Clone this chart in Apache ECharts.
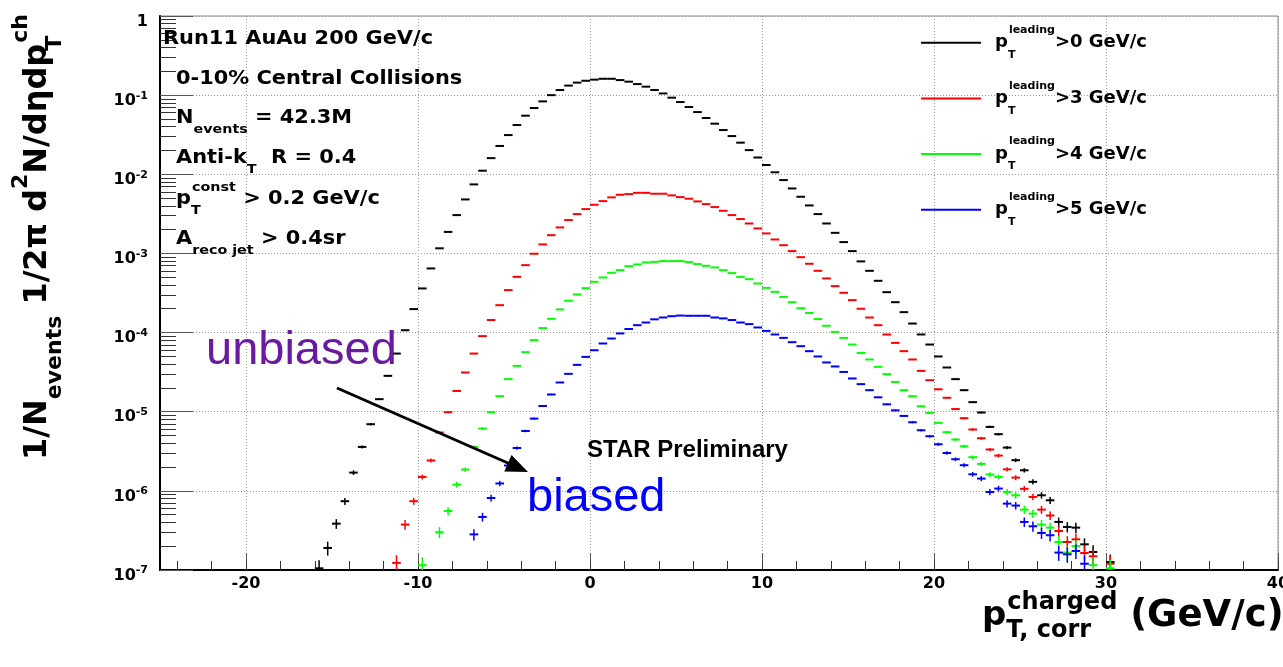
<!DOCTYPE html>
<html>
<head>
<meta charset="utf-8">
<script src="https://cdn.jsdelivr.net/npm/echarts@6/dist/echarts.min.js"></script>
<style>
html, body { margin: 0; padding: 0; background: #fff; }
#main { width: 1283px; height: 667px; }
</style>
</head>
<body>
<div id="main"></div>
<script>
// bin centres of the charged-jet pT histogram (0.5 GeV/c bins)
var binCenters = [
  -15.75, -15.25, -14.75, -14.25, -13.75, -13.25, -12.75, -12.25, -11.75, -11.25,
  -10.75, -10.25, -9.75, -9.25, -8.75, -8.25, -7.75, -7.25, -6.75, -6.25,
  -5.75, -5.25, -4.75, -4.25, -3.75, -3.25, -2.75, -2.25, -1.75, -1.25,
  -0.75, -0.25, 0.25, 0.75, 1.25, 1.75, 2.25, 2.75, 3.25, 3.75,
  4.25, 4.75, 5.25, 5.75, 6.25, 6.75, 7.25, 7.75, 8.25, 8.75,
  9.25, 9.75, 10.25, 10.75, 11.25, 11.75, 12.25, 12.75, 13.25, 13.75,
  14.25, 14.75, 15.25, 15.75, 16.25, 16.75, 17.25, 17.75, 18.25, 18.75,
  19.25, 19.75, 20.25, 20.75, 21.25, 21.75, 22.25, 22.75, 23.25, 23.75,
  24.25, 24.75, 25.25, 25.75, 26.25, 26.75, 27.25, 27.75, 28.25, 28.75,
  29.25, 29.75, 30.25
];

// pT leading > 0 GeV/c
var lead0 = [
  1.05e-7, 1.90e-7, 3.85e-7, 7.40e-7, 1.70e-6, 3.59e-6, 6.95e-6, 1.44e-5, 2.84e-5, 5.43e-5,
  1.07e-4, 1.98e-4, 3.61e-4, 6.46e-4, 1.16e-3, 1.87e-3, 3.05e-3, 4.81e-3, 7.45e-3, 1.11e-2,
  1.60e-2, 2.28e-2, 3.13e-2, 4.19e-2, 5.50e-2, 6.87e-2, 8.34e-2, 1.00e-1, 1.16e-1, 1.32e-1,
  1.44e-1, 1.52e-1, 1.57e-1, 1.61e-1, 1.61e-1, 1.55e-1, 1.48e-1, 1.38e-1, 1.28e-1, 1.16e-1,
  1.05e-1, 9.29e-2, 8.18e-2, 7.08e-2, 6.11e-2, 5.14e-2, 4.36e-2, 3.62e-2, 3.04e-2, 2.51e-2,
  2.02e-2, 1.63e-2, 1.31e-2, 1.06e-2, 8.45e-3, 6.62e-3, 5.20e-3, 4.04e-3, 3.14e-3, 2.39e-3,
  1.82e-3, 1.39e-3, 1.07e-3, 7.93e-4, 6.03e-4, 4.51e-4, 3.24e-4, 2.42e-4, 1.81e-4, 1.30e-4,
  9.46e-5, 7.06e-5, 4.99e-5, 3.62e-5, 2.58e-5, 1.87e-5, 1.32e-5, 9.77e-6, 6.43e-6, 5.20e-6,
  3.52e-6, 2.44e-6, 1.82e-6, 1.30e-6, 8.79e-7, 7.60e-7, 4.05e-7, 3.50e-7, 3.43e-7, 2.11e-7,
  1.69e-7, null, 1.26e-7
];

// pT leading > 3 GeV/c
var lead3 = [
  null, null, null, null, null, null, null, null, null, 1.23e-7,
  3.75e-7, 7.40e-7, 1.50e-6, 2.42e-6, 5.46e-6, 9.86e-6, 1.83e-5, 3.13e-5, 5.43e-5, 9.02e-5,
  1.44e-4, 2.22e-4, 3.44e-4, 5.06e-4, 7.11e-4, 9.91e-4, 1.30e-3, 1.70e-3, 2.13e-3, 2.64e-3,
  3.14e-3, 3.63e-3, 4.12e-3, 4.58e-3, 5.11e-3, 5.51e-3, 5.62e-3, 5.83e-3, 5.83e-3, 5.68e-3,
  5.68e-3, 5.41e-3, 5.15e-3, 4.91e-3, 4.54e-3, 4.20e-3, 3.85e-3, 3.46e-3, 3.05e-3, 2.72e-3,
  2.39e-3, 2.07e-3, 1.79e-3, 1.50e-3, 1.27e-3, 1.07e-3, 8.97e-4, 7.40e-4, 6.03e-4, 4.83e-4,
  3.86e-4, 3.18e-4, 2.57e-4, 2.00e-4, 1.55e-4, 1.24e-4, 9.46e-5, 7.41e-5, 5.82e-5, 4.57e-5,
  3.28e-5, 2.50e-5, 1.92e-5, 1.50e-5, 1.08e-5, 8.28e-6, 5.96e-6, 4.62e-6, 3.33e-6, 2.79e-6,
  1.87e-6, 1.47e-6, 1.06e-6, 8.38e-7, 5.79e-7, 4.88e-7, 3.11e-7, 2.26e-7, 2.44e-7, 1.64e-7,
  1.49e-7, null, 1.20e-7
];

// pT leading > 4 GeV/c
var lead4 = [
  null, null, null, null, null, null, null, null, null, null,
  null, null, 1.15e-7, null, 3.00e-7, 5.57e-7, 1.20e-6, 1.86e-6, 3.59e-6, 6.12e-6,
  9.86e-6, 1.57e-5, 2.58e-5, 3.79e-5, 5.65e-5, 8.02e-5, 1.14e-4, 1.49e-4, 1.96e-4, 2.52e-4,
  3.03e-4, 3.64e-4, 4.38e-4, 4.97e-4, 5.69e-4, 6.15e-4, 6.90e-4, 7.26e-4, 7.69e-4, 7.83e-4,
  8.00e-4, 8.00e-4, 8.00e-4, 7.76e-4, 7.33e-4, 6.97e-4, 6.65e-4, 6.15e-4, 5.64e-4, 5.06e-4,
  4.73e-4, 4.17e-4, 3.67e-4, 3.27e-4, 2.82e-4, 2.42e-4, 2.03e-4, 1.77e-4, 1.48e-4, 1.22e-4,
  1.02e-4, 8.57e-5, 7.06e-5, 5.53e-5, 4.57e-5, 3.69e-5, 2.98e-5, 2.38e-5, 1.87e-5, 1.57e-5,
  1.17e-5, 9.66e-6, 7.23e-6, 5.51e-6, 4.45e-6, 3.66e-6, 2.66e-6, 2.19e-6, 1.61e-6, 1.50e-6,
  9.68e-7, 8.79e-7, 5.79e-7, 5.16e-7, 3.75e-7, 3.43e-7, 2.26e-7, 1.66e-7, 2.00e-7, null,
  1.15e-7, null, 1.05e-7
];

// pT leading > 5 GeV/c
var lead5 = [
  null, null, null, null, null, null, null, null, null, null,
  null, null, null, null, null, null, null, null, 2.82e-7, 4.68e-7,
  8.13e-7, 1.24e-6, 2.09e-6, 3.48e-6, 5.71e-6, 8.18e-6, 1.18e-5, 1.65e-5, 2.34e-5, 3.01e-5,
  3.91e-5, 4.93e-5, 5.98e-5, 7.28e-5, 8.41e-5, 9.75e-5, 1.11e-4, 1.24e-4, 1.34e-4, 1.47e-4,
  1.55e-4, 1.61e-4, 1.64e-4, 1.63e-4, 1.63e-4, 1.63e-4, 1.55e-4, 1.51e-4, 1.44e-4, 1.34e-4,
  1.28e-4, 1.16e-4, 1.05e-4, 9.46e-5, 8.57e-5, 7.56e-5, 6.73e-5, 5.82e-5, 4.99e-5, 4.19e-5,
  3.73e-5, 3.18e-5, 2.63e-5, 2.23e-5, 1.87e-5, 1.52e-5, 1.24e-5, 1.04e-5, 8.85e-6, 7.36e-6,
  5.83e-6, 4.90e-6, 3.88e-6, 3.01e-6, 2.51e-6, 2.11e-6, 1.62e-6, 1.43e-6, 9.68e-7, 1.07e-6,
  6.90e-7, 6.52e-7, 4.05e-7, 3.57e-7, 2.94e-7, 2.75e-7, 1.66e-7, 1.58e-7, 1.74e-7, 1.20e-7,
  null, null, null
];

var seriesNames = ['pT leading > 0 GeV/c', 'pT leading > 3 GeV/c', 'pT leading > 4 GeV/c', 'pT leading > 5 GeV/c'];
var legendCuts = ['>0 GeV/c', '>3 GeV/c', '>4 GeV/c', '>5 GeV/c'];
var seriesColors = ['#000000', '#ff0000', '#00ff00', '#0000ff'];

var binHalfWidth = 0.25;
var countScale = 7.6e-9;   // yield of one count -> poisson error bars
var rootFont = 'DejaVu Sans';

function toPoints(values) {
  var pts = [];
  for (var i = 0; i < binCenters.length; i++) {
    if (values[i] != null) pts.push([binCenters[i], values[i]]);
  }
  return pts;
}

// one histogram bin: horizontal bar over the bin + vertical error bar
function binRenderer(color) {
  return function (params, api) {
    var x = api.value(0), y = api.value(1);
    var err = Math.sqrt(y * countScale);
    var l = api.coord([x - binHalfWidth, y]);
    var r = api.coord([x + binHalfWidth, y]);
    var t = api.coord([x, y + err]);
    var b = api.coord([x, Math.max(y - err, 1e-9)]);
    return {
      type: 'group',
      children: [
        { type: 'line', shape: { x1: l[0], y1: l[1], x2: r[0], y2: r[1] }, style: { stroke: color, lineWidth: 2 } },
        { type: 'line', shape: { x1: t[0], y1: t[1], x2: b[0], y2: b[1] }, style: { stroke: color, lineWidth: 1.5 } }
      ]
    };
  };
}

var infoRich = {
  b: { fontFamily: rootFont, fontWeight: 'bold', fontSize: 19, lineHeight: 36, color: '#000' },
  sub: { fontFamily: rootFont, fontWeight: 'bold', fontSize: 13, lineHeight: 10, verticalAlign: 'bottom', color: '#000' },
  subn: { fontFamily: rootFont, fontWeight: 'bold', fontSize: 13, lineHeight: 10, verticalAlign: 'bottom', width: 1, color: '#000' },
  sup: { fontFamily: rootFont, fontWeight: 'bold', fontSize: 13, lineHeight: 22, verticalAlign: 'top', color: '#000' }
};

var legendRich = {
  gap: { width: 9 },
  b: { fontFamily: rootFont, fontWeight: 'bold', fontSize: 18, lineHeight: 36, color: '#000' },
  subn: { fontFamily: rootFont, fontWeight: 'bold', fontSize: 11, lineHeight: 12, verticalAlign: 'bottom', width: 1, color: '#000' },
  sup: { fontFamily: rootFont, fontWeight: 'bold', fontSize: 11, lineHeight: 22, verticalAlign: 'top', color: '#000' }
};

var yTitleRich = {
  b: { fontFamily: rootFont, fontWeight: 'bold', fontSize: 32, lineHeight: 56, color: '#000' },
  sub: { fontFamily: rootFont, fontWeight: 'bold', fontSize: 22, lineHeight: 16, verticalAlign: 'bottom', color: '#000' },
  subn: { fontFamily: rootFont, fontWeight: 'bold', fontSize: 22, lineHeight: 18, verticalAlign: 'bottom', width: 1, color: '#000' },
  sup: { fontFamily: rootFont, fontWeight: 'bold', fontSize: 22, lineHeight: 23, verticalAlign: 'top', color: '#000' }
};

var xTitleRich = {
  b: { fontFamily: rootFont, fontWeight: 'bold', fontSize: 34, lineHeight: 52, color: '#000' },
  u: { fontFamily: rootFont, fontWeight: 'bold', fontSize: 37, lineHeight: 52, color: '#000' },
  subn: { fontFamily: rootFont, fontWeight: 'bold', fontSize: 24, lineHeight: 25, verticalAlign: 'bottom', width: 1, color: '#000' },
  sup: { fontFamily: rootFont, fontWeight: 'bold', fontSize: 24, lineHeight: 18, verticalAlign: 'top', color: '#000' }
};

function infoText(x, y, text) {
  return {
    type: 'text', x: x, y: y, scaleX: 1.1, z: 10,
    style: { text: text, rich: infoRich, align: 'left', verticalAlign: 'middle', textAlign: 'left', textVerticalAlign: 'middle' }
  };
}

var chart = echarts.init(document.getElementById('main'));

var series = [lead0, lead3, lead4, lead5].map(function (vals, i) {
  return {
    type: 'custom',
    name: seriesNames[i],
    xAxisIndex: 0,
    yAxisIndex: 0,
    clip: true,
    itemStyle: { color: seriesColors[i] },
    renderItem: binRenderer(seriesColors[i]),
    encode: { x: 0, y: 1 },
    data: toPoints(vals)
  };
});

var option = {
  animation: false,
  backgroundColor: '#fff',
  grid: [
    { left: 160, right: 5, top: 16, bottom: 97, show: true, borderColor: '#888', borderWidth: 1, outerBoundsMode: 'none' },
    { left: 177.2, right: 5, top: 16, bottom: 97, show: false, outerBoundsMode: 'none' }
  ],
  legend: {
    orient: 'vertical',
    left: 921,
    top: 24.7,
    padding: 0,
    itemWidth: 60,
    itemHeight: 2,
    itemGap: 19.7,
    icon: 'rect',
    data: seriesNames,
    formatter: function (name) {
      var i = seriesNames.indexOf(name);
      return '{gap| }{b|p}{subn|T}{sup|leading}{b|' + legendCuts[i] + '}';
    },
    textStyle: { rich: legendRich }
  },
  xAxis: [
    {
      type: 'value', gridIndex: 0, min: -25, max: 40,
      axisLine: { show: true, onZero: false, lineStyle: { color: '#000', width: 2 } },
      axisTick: { show: true, inside: true, length: 17, lineStyle: { color: '#555', width: 1 } },
      axisLabel: { margin: 6, showMinLabel: false, fontFamily: rootFont, fontWeight: 'bold', fontSize: 16, color: '#000' },
      splitLine: { show: true, lineStyle: { color: '#999', width: 1, type: [1, 2] } }
    },
    {
      // minor ticks every 2 GeV/c
      type: 'value', gridIndex: 1, min: -24, max: 40, interval: 2,
      axisLine: { show: false, onZero: false },
      axisTick: { show: true, inside: true, length: 9, lineStyle: { color: '#333', width: 1 } },
      axisLabel: { show: false },
      splitLine: { show: false }
    }
  ],
  yAxis: [
    {
      type: 'log', gridIndex: 0, logBase: 10, min: 1e-7, max: 1, splitNumber: 7,
      axisLine: { show: true, onZero: false, lineStyle: { color: '#000', width: 2 } },
      axisTick: { show: true, inside: true, length: 33, lineStyle: { color: '#555', width: 1 } },
      minorTick: { show: true, splitNumber: 9, length: 16, lineStyle: { color: '#333', width: 1 } },
      minorSplitLine: { show: false },
      splitLine: { show: true, lineStyle: { color: '#999', width: 1, type: [1, 2] } },
      axisLabel: {
        margin: 12,
        formatter: function (v) {
          var e = Math.round(Math.log(v) / Math.LN10);
          return e === 0 ? '{b|1}' : '{b|10}{s|' + e + '}';
        },
        rich: {
          b: { fontFamily: rootFont, fontWeight: 'bold', fontSize: 16, padding: [11, 0, 0, 0], color: '#000' },
          s: { fontFamily: rootFont, fontWeight: 'bold', fontSize: 11, padding: [1, 0, 0, 0], color: '#000' }
        }
      }
    },
    { type: 'value', gridIndex: 1, show: false, min: 0, max: 1 }
  ],
  graphic: [
    infoText(163, 39.5, '{b|Run11 AuAu 200 GeV/c}'),
    infoText(176, 79, '{b|0-10% Central Collisions}'),
    infoText(176, 118, '{b|N}{sub|events}{b| = 42.3M}'),
    infoText(176, 158.5, '{b|Anti-k}{sub|T}{b|  R = 0.4}'),
    infoText(176, 199, '{b|p}{subn|T}{sup|const}{b| > 0.2 GeV/c}'),
    infoText(176, 239.5, '{b|A}{sub|reco jet}{b| > 0.4sr}'),
    {
      type: 'text', x: 38, y: 237, rotation: Math.PI / 2, z: 10,
      style: {
        text: '{b|1/N}{sub|events}{b| 1/2\u03c0 d}{sup|2}{b|N/d\u03b7dp}{subn|T}{sup|ch}',
        rich: yTitleRich, align: 'center', verticalAlign: 'middle', textAlign: 'center', textVerticalAlign: 'middle'
      }
    },
    {
      type: 'text', x: 982, y: 616.5, z: 10,
      style: {
        text: '{b|p}{subn|T, corr}{sup|charged}{u| (GeV/c)}',
        rich: xTitleRich, align: 'left', verticalAlign: 'middle', textAlign: 'left', textVerticalAlign: 'middle'
      }
    },
    {
      type: 'text', x: 587, y: 450.5, z: 10,
      style: {
        text: 'STAR Preliminary', fill: '#000', font: 'bold 24px "Liberation Sans", Arial, sans-serif',
        align: 'left', verticalAlign: 'middle', textAlign: 'left', textVerticalAlign: 'middle'
      }
    },
    {
      type: 'text', x: 206, y: 350.7, z: 10,
      style: {
        text: 'unbiased', fill: '#6a1aa0', font: '47px "Liberation Sans", Arial, sans-serif',
        align: 'left', verticalAlign: 'middle', textAlign: 'left', textVerticalAlign: 'middle'
      }
    },
    {
      type: 'text', x: 527, y: 497.7, z: 10,
      style: {
        text: 'biased', fill: '#0000ff', font: '47px "Liberation Sans", Arial, sans-serif',
        align: 'left', verticalAlign: 'middle', textAlign: 'left', textVerticalAlign: 'middle'
      }
    },
    {
      type: 'line', z: 10,
      shape: { x1: 337, y1: 388, x2: 509, y2: 463.5 },
      style: { stroke: '#000', lineWidth: 3 }
    },
    {
      type: 'polygon', z: 10,
      shape: { points: [[528, 472], [504.3, 471.4], [511.5, 455]] },
      style: { fill: '#000' }
    }
  ],
  series: series
};

chart.setOption(option);
</script>
</body>
</html>
